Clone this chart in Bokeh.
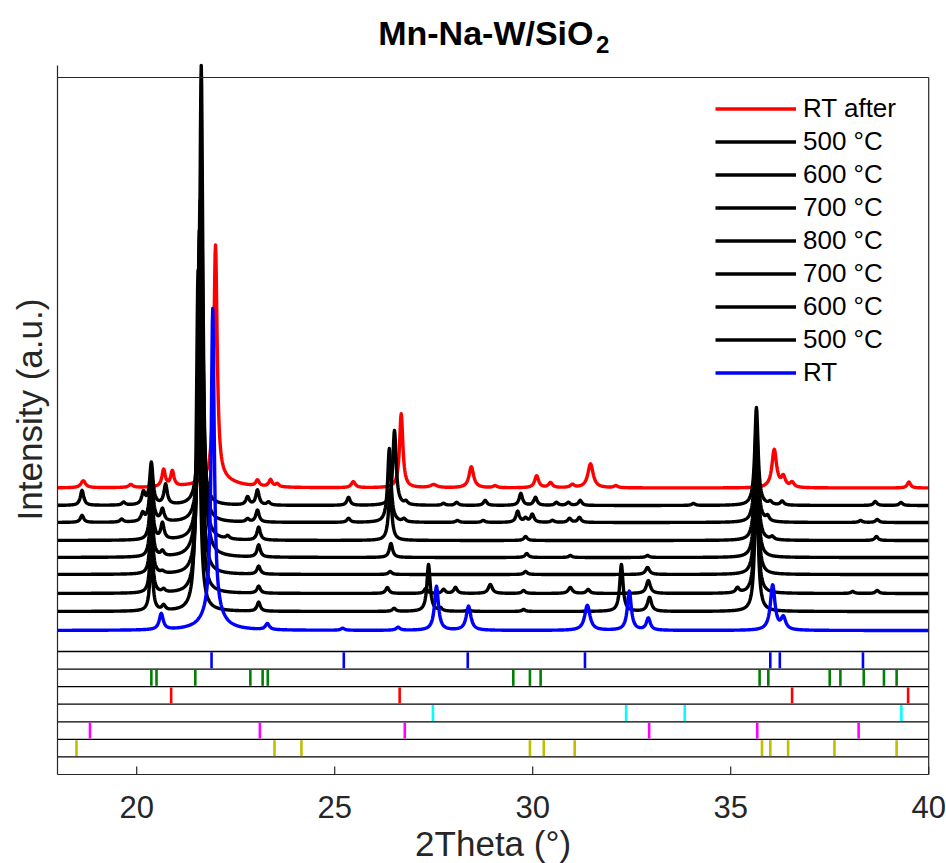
import numpy as np
from bokeh.plotting import figure
from bokeh.models import Range1d, Legend, LegendItem
from bokeh.core.properties import value
from bokeh.embed import file_html
from bokeh.resources import INLINE

FONT = "Liberation Sans"
AXC = "#262626"

# ---------------- data ----------------
x_ticks = [20, 25, 30, 35, 40]
x_tick_labels = ["20", "25", "30", "35", "40"]
curve_labels = ["RT", "500 °C", "600 °C", "700 °C", "800 °C", "700 °C", "600 °C", "500 °C", "RT after"]
curve_colors = ["#0000ff", "black", "black", "black", "black", "black", "black", "black", "#ff0000"]
curve_offsets = [0, 19, 37, 56, 73, 90, 108, 125, 142.5]

# peak lists: position (deg), height (a.u.), half width (deg)
rt_pos = [20.62, 21.92, 21.92, 23.30, 25.20, 26.60, 27.57, 28.38, 31.38, 32.44, 32.92, 36.06, 36.33]
rt_hgt = [16, 300, 22, 6, 2, 3, 44, 24, 25, 39, 12, 45, 12]
rt_gam = [0.06, 0.045, 0.25, 0.06, 0.06, 0.06, 0.06, 0.07, 0.08, 0.06, 0.06, 0.07, 0.07]

h500_pos = [20.37, 20.68, 21.55, 23.08, 26.50, 27.37, 27.67, 28.38, 29.77, 32.24, 32.95, 35.65]
h500_hgt = [55, 5, 341, 9, 3, 47, 3, 2, 2, 47, 14, 135]
h500_gam = [0.045, 0.05, 0.05, 0.05, 0.05, 0.05, 0.05, 0.05, 0.05, 0.05, 0.06, 0.05]

h600_pos = [20.37, 20.68, 21.58, 23.08, 26.33, 27.30, 27.75, 28.05, 28.93, 29.77, 30.95, 31.40, 32.92, 35.17, 35.65, 38.08, 38.70]
h600_hgt = [55, 3, 363, 7, 6, 5, 4, 6, 9, 3, 6, 4, 13, 5, 130, 2, 3]
h600_gam = [0.045, 0.05, 0.05, 0.05, 0.05, 0.05, 0.05, 0.05, 0.06, 0.05, 0.06, 0.05, 0.06, 0.05, 0.05, 0.05, 0.05]

h700_pos = [20.37, 20.65, 21.60, 23.08, 26.40, 29.82, 32.90, 35.65]
h700_hgt = [55, 2, 374, 8, 3, 3, 7, 125]
h700_gam = [0.045, 0.05, 0.05, 0.05, 0.05, 0.05, 0.06, 0.05]

t800_pos = [20.37, 20.65, 21.63, 23.08, 26.42, 29.85, 30.95, 32.90, 35.65]
t800_hgt = [55, 5, 492, 12, 14, 4, 2, 2, 120]
t800_gam = [0.045, 0.05, 0.05, 0.05, 0.05, 0.05, 0.05, 0.05, 0.05]

c700_pos = [20.37, 20.65, 21.63, 22.30, 23.08, 26.40, 29.82, 35.65, 36.05, 38.68]
c700_hgt = [55, 16, 380, 3, 13, 50, 4, 110, 3, 4]
c700_gam = [0.045, 0.05, 0.05, 0.05, 0.05, 0.05, 0.05, 0.05, 0.05, 0.05]

c600_pos = [18.62, 19.62, 20.15, 20.37, 20.65, 21.63, 22.80, 23.05, 25.35, 26.38, 26.75, 28.10, 28.75,
            29.62, 29.82, 29.99, 30.50, 30.93, 31.18, 35.65, 35.93, 38.28, 38.70]
c600_hgt = [7, 3, 8, 50, 12, 312, 3, 12, 4, 74, 3, 2, 2, 11, 4, 8, 2, 4, 5, 100, 5, 2, 3]
c600_gam = [0.05] * 23

c500_pos = [18.62, 19.67, 20.17, 20.37, 20.73, 21.62, 22.80, 23.05, 23.33, 25.35, 26.51, 26.80, 27.75,
            28.08, 28.80, 29.70, 30.07, 30.60, 30.90, 31.20, 34.06, 35.65, 36.00, 36.30, 38.65, 39.30]
c500_hgt = [15, 3, 12, 42, 20, 255, 8, 15, 3, 8, 75, 3, 2, 3, 5, 12, 8, 3, 3, 5, 2, 98, 3, 4, 4, 3]
c500_gam = [0.05] * 26

after_pos = [18.65, 19.85, 20.68, 20.90, 21.99, 22.05, 23.05, 23.38, 23.55, 25.47, 26.68, 27.50, 28.45,
             29.05, 30.10, 30.45, 31.00, 31.46, 32.10, 36.10, 36.33, 36.55, 39.50]
after_hgt = [7, 3, 17, 15, 235, 8, 6, 7, 3, 6, 74, 3, 21, 2, 12, 5, 3, 24, 2, 38, 10, 5, 6]
after_gam = [0.07, 0.06, 0.05, 0.05, 0.05, 0.5, 0.05, 0.05, 0.05, 0.06, 0.05, 0.1, 0.07,
             0.06, 0.06, 0.06, 0.06, 0.08, 0.06, 0.07, 0.06, 0.06, 0.05]

# reference stick patterns (2theta positions), one row each
ref_blue = [21.89, 25.23, 28.36, 31.32, 36.00, 36.24, 38.34]
ref_green = [20.37, 20.50, 21.48, 22.87, 23.18, 23.31, 29.51, 29.93, 30.20, 35.73, 35.95, 37.50, 37.77, 38.36, 38.87, 39.19]
ref_red = [20.87, 26.64, 36.55, 39.48]
ref_cyan = [27.48, 32.36, 33.84, 39.31]
ref_magenta = [18.82, 23.11, 26.77, 32.94, 35.67, 38.23]
ref_yellow = [18.48, 23.48, 24.16, 29.93, 30.28, 31.06, 35.79, 36.00, 36.45, 37.62, 39.19]
ref_colors = ["#0000ff", "#008000", "#ff0000", "#00ffff", "#ff00ff", "#bfbf00"]

peak_sets = [
    (rt_pos, rt_hgt, rt_gam),
    (h500_pos, h500_hgt, h500_gam),
    (h600_pos, h600_hgt, h600_gam),
    (h700_pos, h700_hgt, h700_gam),
    (t800_pos, t800_hgt, t800_gam),
    (c700_pos, c700_hgt, c700_gam),
    (c600_pos, c600_hgt, c600_gam),
    (c500_pos, c500_hgt, c500_gam),
    (after_pos, after_hgt, after_gam),
]

# ---------------- figure ----------------
X0, X1 = 18, 40
PXD = 39.6                      # pixels per degree
YB, YT = -144, 565              # axes box (bottom of stick panel, top of left axis)
TOPLINE = 553
W, H = 946, 863
x_lo = X0 - 57 / PXD
x_hi = x_lo + W / PXD
y_hi = 630
y_lo = y_hi - H

p = figure(width=W, height=H, x_range=Range1d(x_lo, x_hi), y_range=Range1d(y_lo, y_hi),
           output_backend="svg", toolbar_location=None,
           min_border_left=0, min_border_right=0, min_border_top=0, min_border_bottom=0)
p.outline_line_color = None
p.grid.visible = False
p.axis.visible = False
p.background_fill_color = "white"

# curves
xg = np.linspace(X0, X1, 2201)
renderers = {}
draw_order = [8, 7, 6, 5, 4, 3, 2, 1, 0]
for i in draw_order:
    pos, hgt, gam = peak_sets[i]
    y = np.full_like(xg, curve_offsets[i], dtype=float)
    for pk, hk, gk in zip(pos, hgt, gam):
        y += hk * gk ** 2 / ((xg - pk) ** 2 + gk ** 2)
    renderers[i] = p.line(xg, y, line_color=curve_colors[i], line_width=3.4, line_join="round")

# stick rows
row_top0 = -21.0
row_h = 17.57
rows = [ref_blue, ref_green, ref_red, ref_cyan, ref_magenta, ref_yellow]
for k in range(7):
    yk = row_top0 - k * row_h
    p.segment(x0=[X0], y0=[yk], x1=[X1], y1=[yk], line_color="black", line_width=1.3)
for k, (xs, col) in enumerate(zip(rows, ref_colors)):
    top = row_top0 - k * row_h - 0.8
    bot = row_top0 - (k + 1) * row_h + 0.8
    p.segment(x0=xs, y0=[bot] * len(xs), x1=xs, y1=[top] * len(xs), line_color=col, line_width=2.6)

# axes box lines and ticks
p.segment(x0=[X0], y0=[YB], x1=[X0], y1=[YT], line_color=AXC, line_width=1.2)
p.segment(x0=[X0], y0=[YB], x1=[X1], y1=[YB], line_color=AXC, line_width=1.2)
p.segment(x0=[X0], y0=[TOPLINE], x1=[X1], y1=[TOPLINE], line_color=AXC, line_width=1.2)
p.segment(x0=[X1], y0=[YB], x1=[X1], y1=[TOPLINE], line_color=AXC, line_width=1.2)
p.segment(x0=x_ticks, y0=[YB] * len(x_ticks), x1=x_ticks, y1=[YB + 8] * len(x_ticks),
          line_color=AXC, line_width=1.2)
p.text(x=x_ticks, y=[-176] * len(x_ticks), text=x_tick_labels, text_align="center",
       text_baseline="middle", text_font=value(FONT), text_font_size=value("31px"), text_color=AXC)

# axis titles and title
p.text(x=[29.0], y=[-213], text=["2Theta (°)"], text_align="center", text_baseline="middle",
       text_font=value(FONT), text_font_size=value("35px"), text_color=AXC)
p.text(x=[X0 - 28.5 / PXD], y=[221], text=["Intensity (a.u.)"], angle=np.pi / 2, text_align="center",
       text_baseline="middle", text_font=value(FONT), text_font_size=value("35px"), text_color=AXC)
p.text(x=[31.535], y=[598], text=["Mn-Na-W/SiO"], text_align="right", text_baseline="middle",
       text_font=value(FONT), text_font_style="bold", text_font_size=value("34px"), text_color="black")
p.text(x=[31.60], y=[586.5], text=["2"], text_align="left", text_baseline="middle",
       text_font=value(FONT), text_font_style="bold", text_font_size=value("24px"), text_color="black")

# legend
order = [8, 7, 6, 5, 4, 3, 2, 1, 0]
items = [LegendItem(label=curve_labels[i], renderers=[renderers[i]]) for i in order]
legend = Legend(items=items, location=(715, 474.5), label_text_font=FONT, label_text_font_size="26px",
                label_text_color="black", glyph_width=81, glyph_height=33, label_height=33,
                label_standoff=7, spacing=0, padding=0, margin=0, border_line_color=None,
                background_fill_alpha=0)
p.add_layout(legend)

open("out.html", "w").write(file_html(p, INLINE))
